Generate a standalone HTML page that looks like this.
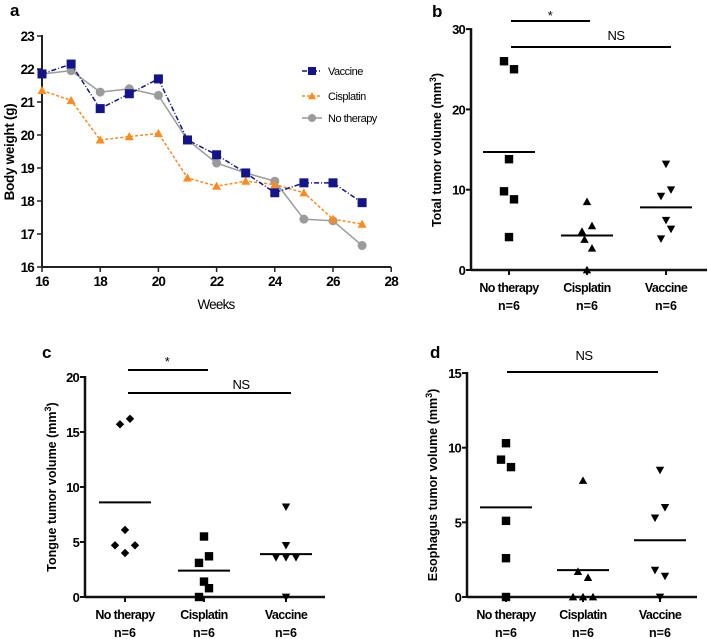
<!DOCTYPE html>
<html><head><meta charset="utf-8"><style>
body{margin:0;background:#fff;}
svg{display:block;font-family:"Liberation Sans",Arial,sans-serif;}
</style></head><body>
<svg id="s" width="708" height="639" viewBox="0 0 708 639" xmlns="http://www.w3.org/2000/svg"></svg>
<script>
// Panel a data
const weeks=[16,17,18,19,20,21,22,23,24,25,26,27];
const vaccineW=[21.85,22.15,20.8,21.25,21.7,19.85,19.4,18.85,18.25,18.55,18.55,17.95];
const cisplatinW=[21.35,21.05,19.85,19.95,20.05,18.7,18.45,18.6,18.5,18.25,17.45,17.3];
const noTherapyW=[21.85,21.95,21.3,21.4,21.2,19.85,19.15,18.85,18.6,17.45,17.4,16.65];
const aXTicks=[16,18,20,22,24,26,28];
const aYTicks=[16,17,18,19,20,21,22,23];
// Scatter panels
const groups=["No therapy","Cisplatin","Vaccine"];
const bNo=[26,25,13.8,9.8,8.8,4.1], bCis=[8.5,5.5,4.8,3.8,2.7,0], bVac=[13.2,10,9.2,6.2,5.1,3.9];
const bMeans=[14.7,4.3,7.8];
const cNo=[15.7,16.2,6.1,4.7,4.7,4.0], cCis=[5.5,3.7,3.1,1.4,0.8,0], cVac=[8.2,4.7,3.6,3.6,3.6,0];
const cMeans=[8.6,2.4,3.9];
const dNo=[10.3,9.2,8.7,5.1,2.6,0], dCis=[7.8,1.7,1.3,0,0,0], dVac=[8.5,6.0,5.3,1.8,1.4,0];
const dMeans=[6.0,1.8,3.8];
const bJit=[[-1,1,0,-1,1,0],[0,1,-1,-0.5,1,0],[0,1,-1,0,1,-1]];
const cJit=[[-1,1,0,-2,2,0],[0,1,-1,0,1,-1],[0,0,-2,0,2,0]];
const dJit=[[0,-1,1,0,0,0],[0,-1,1,-2,0,2],[0,1,-1,-1,1,0]];

const S=document.getElementById('s');const NS='http://www.w3.org/2000/svg';
function el(t,a,p){const e=document.createElementNS(NS,t);for(const k in a)e.setAttribute(k,a[k]);(p||S).appendChild(e);return e;}
function txt(x,y,s,a,name){const e=el('text',Object.assign({x:x,y:y},a));e.textContent=s;

return e;}

// ---------- Panel a ----------
const ax=v=>42+(v-16)*29.1, ay=v=>267-(v-16)*33;
const ga=el('g',{});


txt(10,16,'a',{'font-size':17,'font-weight':'bold'},'panel-a-label');
el('line',{x1:42,y1:35,x2:42,y2:268,stroke:'#222','stroke-width':2},ga);
el('line',{x1:41,y1:267,x2:391,y2:267,stroke:'#222','stroke-width':2},ga);
aYTicks.forEach(v=>{el('line',{x1:37,y1:ay(v),x2:42,y2:ay(v),stroke:'#222','stroke-width':1.5},ga);
 txt(34,ay(v)+5,String(v),{'font-size':13.5,'font-weight':'bold','text-anchor':'end','letter-spacing':'-0.8'},'y-tick-label');});
aXTicks.forEach(v=>{el('line',{x1:ax(v),y1:267,x2:ax(v),y2:272,stroke:'#222','stroke-width':1.5},ga);
 txt(ax(v),286,String(v),{'font-size':13.5,'font-weight':'bold','text-anchor':'middle','letter-spacing':'-0.8'},'x-tick-label');});
txt(216,309,'Weeks',{'font-size':13.5,'text-anchor':'middle','letter-spacing':'-0.8'},'x-axis-title');
txt(0,0,'Body weight (g)',{'font-size':13.5,'font-weight':'bold','text-anchor':'middle',transform:'translate(14,152) rotate(-90)','letter-spacing':'-0.3'},'y-axis-title');
function series(vals,color,dash,marker,name){
 const pts=vals.map((v,i)=>ax(weeks[i])+','+ay(v)).join(' ');
 const l=el('polyline',{points:pts,fill:'none',stroke:color,'stroke-width':1.5,'stroke-dasharray':dash},ga);
 
 
 vals.forEach((v,i)=>{const m=mark(ax(weeks[i]),ay(v),marker,color,ga);
  
  });
}
function mark(x,y,type,color,p,sz){sz=sz||4.5;
 if(type==='sq')return el('rect',{x:x-sz,y:y-sz,width:2*sz,height:2*sz,fill:color},p);
 if(type==='ci')return el('circle',{cx:x,cy:y,r:sz,fill:color},p);
 if(type==='tri')return el('polygon',{points:`${x},${y-sz} ${x-sz},${y+sz*0.8} ${x+sz},${y+sz*0.8}`,fill:color},p);
 if(type==='dtri')return el('polygon',{points:`${x},${y+sz} ${x-sz},${y-sz*0.8} ${x+sz},${y-sz*0.8}`,fill:color},p);
 if(type==='dia')return el('polygon',{points:`${x},${y-sz} ${x-sz},${y} ${x},${y+sz} ${x+sz},${y}`,fill:color},p);
}
series(noTherapyW,'#9b9b9b','none','ci','no-therapy');
series(cisplatinW,'#ff8a1e','3,2','tri','cisplatin');
series(vaccineW,'#14148a','5,2,1,2','sq','vaccine');
// legend
[['Vaccine','#14148a','5,2,1,2','sq',71],['Cisplatin','#ff8a1e','3,2','tri',96],['No therapy','#9b9b9b','none','ci',118]].forEach(L=>{
 const g=el('g',{},ga);
 
 
 el('line',{x1:302,y1:L[4],x2:322,y2:L[4],stroke:L[1],'stroke-width':1.5,'stroke-dasharray':L[2]},g);
 mark(312,L[4],L[3],L[1],g,4);
 txt(328,L[4]+4,L[0],{'font-size':11,'letter-spacing':'-0.5'},'legend-label');
});

// ---------- scatter panels ----------
function scatter(cfg){
 const g=el('g',{});
 
 
 const y=v=>cfg.y0-(v*cfg.ppu);
 txt(cfg.lx,cfg.ly,cfg.label,{'font-size':17,'font-weight':'bold'},cfg.name+'-label');
 el('line',{x1:cfg.x0,y1:y(cfg.max)-1,x2:cfg.x0,y2:cfg.y0+1,stroke:'#111','stroke-width':2.5},g);
 el('line',{x1:cfg.x0,y1:cfg.y0,x2:cfg.xend,y2:cfg.y0,stroke:'#111','stroke-width':2.5},g);
 cfg.ticks.forEach(v=>{el('line',{x1:cfg.x0-5,y1:y(v),x2:cfg.x0,y2:y(v),stroke:'#111','stroke-width':2},g);
  txt(cfg.x0-6,y(v)+5,String(v),{'font-size':13,'font-weight':'bold','text-anchor':'end','letter-spacing':'-0.8'},'y-tick-label');});
 cfg.cx.forEach((cx,i)=>{el('line',{x1:cx,y1:cfg.y0,x2:cx,y2:cfg.y0+5,stroke:'#111','stroke-width':2},g);
  txt(cx,cfg.y0+22,groups[i],{'font-size':12.5,'font-weight':'bold','text-anchor':'middle','letter-spacing':'-0.6'},'x-tick-label');
  txt(cx,cfg.y0+40,'n=6',{'font-size':12.5,'font-weight':'bold','text-anchor':'middle'},'x-tick-n');
  cfg.data[i].forEach((v,j)=>{const m=mark(cx+cfg.jit[i][j]*5,y(v),cfg.markers[i],'#000',g,4.2);
   
   });
  const ml=el('line',{x1:cx-26,y1:y(cfg.means[i]),x2:cx+26,y2:y(cfg.means[i]),stroke:'#000','stroke-width':2},g);
  
  
 });
 cfg.sig.forEach(s=>{const b=el('line',{x1:s[0],y1:s[2],x2:s[1],y2:s[2],stroke:'#000','stroke-width':2},g);
  
  
  txt(s[3],s[4],s[5],{'font-size':13,'text-anchor':'middle','letter-spacing':'-0.5'},'significance-label');});
 txt(0,0,'',{'font-size':12.5,'font-weight':'bold','text-anchor':'middle',transform:`translate(${cfg.tx},${cfg.ty}) rotate(-90)`},'y-axis-title').innerHTML=cfg.title;
}
scatter({name:'panel-b',label:'b',lx:432,ly:17,x0:471,y0:270,ppu:8.03,max:30,xend:707,ticks:[0,10,20,30],
 cx:[509,587,666],data:[bNo,bCis,bVac],means:bMeans,jit:bJit,markers:['sq','tri','dtri'],
 sig:[[511,590,21,550,20,'*'],[511,671,47,616,40,'NS']],tx:441,ty:150,
 title:'Total tumor volume (mm<tspan dy="-5" font-size="9">3</tspan><tspan dy="5">)</tspan>'});
scatter({name:'panel-c',label:'c',lx:42,ly:358,x0:85,y0:597,ppu:11,max:20,xend:325,ticks:[0,5,10,15,20],
 cx:[125,204,286],data:[cNo,cCis,cVac],means:cMeans,jit:cJit,markers:['dia','sq','dtri'],
 sig:[[128,208,370,167,366,'*'],[128,291,393,241,389,'NS']],tx:56,ty:487,
 title:'Tongue tumor volume (mm<tspan dy="-5" font-size="9">3</tspan><tspan dy="5">)</tspan>'});
scatter({name:'panel-d',label:'d',lx:430,ly:358,x0:467,y0:597,ppu:14.93,max:15,xend:697,ticks:[0,5,10,15],
 cx:[506,583,660],data:[dNo,dCis,dVac],means:dMeans,jit:dJit,markers:['sq','tri','dtri'],
 sig:[[507,658,372,584,360,'NS']],tx:437,ty:485,
 title:'Esophagus tumor volume (mm<tspan dy="-5" font-size="9">3</tspan><tspan dy="5">)</tspan>'});
</script>
</body></html>
